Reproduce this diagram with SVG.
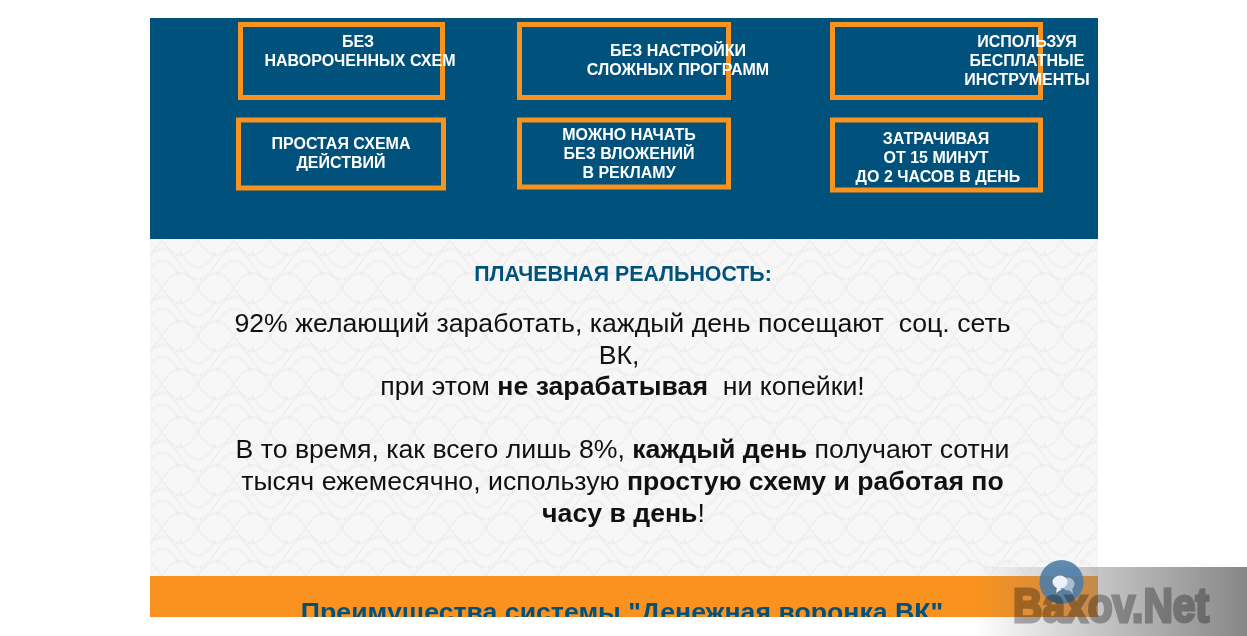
<svg xmlns="http://www.w3.org/2000/svg" width="1247" height="636" viewBox="0 0 1247 636">
<style>
text{font-family:"Liberation Sans",Arial,sans-serif}
.box{fill:none;stroke:#f7931e;stroke-width:5}
.lbl{font-size:16px;font-weight:700;fill:#fff;text-anchor:middle}
.body{font-size:26.670px;fill:#111;text-anchor:middle}
.body tspan.b{font-weight:700}
.wave{fill:none;stroke:#ececec;stroke-width:2.500;stroke-dasharray:1.500 1.500}
</style>
<defs>
<pattern id="tex" width="72" height="48" patternUnits="userSpaceOnUse">
<rect width="72" height="48" fill="#f7f7f7"/>
<path class="wave" d="M0 24C12 4 24 4 36 24C48 44 60 44 72 24"/>
<path class="wave" d="M0 36C12 16 24 16 36 36M36 12C48 32 60 32 72 12"/>
<path class="wave" d="M-18 48C-6 28 6 28 18 48C30 28 42 28 54 48C66 28 78 28 90 48"/>
<path class="wave" d="M-18 0C-6 20 6 20 18 0C30 20 42 20 54 0C66 20 78 20 90 0"/>
</pattern>
<linearGradient id="wm" gradientUnits="userSpaceOnUse" x1="975" x2="1247" y1="0" y2="0">
<stop offset="0" stop-color="#808080" stop-opacity="0"/>
<stop offset="0.45" stop-color="#808080" stop-opacity=".45"/>
<stop offset="1" stop-color="#808080" stop-opacity=".95"/>
</linearGradient>
<clipPath id="page"><rect x="150" y="18" width="948" height="599"/></clipPath>
</defs>
<rect width="1247" height="636" fill="#fff"/>
<g id="page-content" clip-path="url(#page)">
<rect id="band-blue" x="150" y="18" width="948" height="221" fill="#00527c"/>
<rect id="band-texture" x="150" y="239" width="948" height="337" fill="url(#tex)"/>
<rect id="band-orange" x="150" y="576" width="948" height="41" fill="#f9921f"/>
<text x="622" y="621" font-size="26.670" font-weight="700" fill="#00527c" text-anchor="middle">Преимущества системы "Денежная воронка ВК"</text>
</g>
<g id="connectors"/>
<g id="node-1"><rect class="box" x="240.500" y="24.500" width="202" height="73"/><text class="lbl"><tspan x="358" y="47">БЕЗ</tspan><tspan x="360" y="65.500">НАВОРОЧЕННЫХ СХЕМ</tspan></text></g>
<g id="node-2"><rect class="box" x="519.500" y="24.500" width="209" height="73"/><text class="lbl"><tspan x="678" y="56">БЕЗ НАСТРОЙКИ</tspan><tspan x="678" y="74.500">СЛОЖНЫХ ПРОГРАММ</tspan></text></g>
<g id="node-3"><rect class="box" x="832.500" y="24.500" width="208" height="73"/><text class="lbl"><tspan x="1027" y="47">ИСПОЛЬЗУЯ</tspan><tspan x="1027" y="65.500">БЕСПЛАТНЫЕ</tspan><tspan x="1027" y="84.500">ИНСТРУМЕНТЫ</tspan></text></g>
<g id="node-4"><rect class="box" x="238.500" y="120" width="205" height="68"/><text class="lbl"><tspan x="341" y="149">ПРОСТАЯ СХЕМА</tspan><tspan x="341" y="168">ДЕЙСТВИЙ</tspan></text></g>
<g id="node-5"><rect class="box" x="519.500" y="120" width="209" height="67"/><text class="lbl"><tspan x="629" y="140">МОЖНО НАЧАТЬ</tspan><tspan x="629" y="159">БЕЗ ВЛОЖЕНИЙ</tspan><tspan x="629" y="177.500">В РЕКЛАМУ</tspan></text></g>
<g id="node-6"><rect class="box" x="832.500" y="120" width="208" height="70"/><text class="lbl"><tspan x="936" y="144">ЗАТРАЧИВАЯ</tspan><tspan x="936" y="163">ОТ 15 МИНУТ</tspan><tspan x="938" y="182">ДО 2 ЧАСОВ В ДЕНЬ</tspan></text></g>
<g id="copy">
<text x="623" y="281" font-size="21.330" font-weight="700" fill="#00527c" text-anchor="middle">ПЛАЧЕВНАЯ РЕАЛЬНОСТЬ:</text>
<text class="body" xml:space="preserve"><tspan x="622.500" y="332">92% желающий заработать, каждый день посещают  соц. сеть</tspan><tspan x="619" y="364">ВК,</tspan><tspan x="622.500" y="395">при этом <tspan class="b">не зарабатывая</tspan>  ни копейки!</tspan><tspan x="622.500" y="458">В то время, как всего лишь 8%, <tspan class="b">каждый день</tspan> получают сотни</tspan><tspan x="622.500" y="490">тысяч ежемесячно, использую <tspan class="b">простую схему и работая по</tspan></tspan><tspan x="623.500" y="522"><tspan class="b">часу в день</tspan>!</tspan></text>
</g>
<g id="watermark">
<rect x="975" y="567" width="272" height="69" fill="url(#wm)"/>
<circle cx="1061.500" cy="582" r="22" fill="#4a7ca8" fill-opacity=".88"/>
<ellipse cx="1068" cy="584" rx="6.500" ry="6.500" fill="#a9bfd3"/>
<path d="M1068 589l5 5-1-7z" fill="#a9bfd3"/>
<ellipse cx="1060" cy="582" rx="7.500" ry="6.500" fill="#eef2f6"/>
<path d="M1057 587l-1 6 6-4z" fill="#eef2f6"/>
<text x="1111" y="621.500" font-size="48" font-weight="700" fill="#b2b2b2" stroke="#b2b2b2" stroke-width="3" text-anchor="middle" textLength="196" lengthAdjust="spacingAndGlyphs" style="mix-blend-mode:multiply">Baxov.Net</text>
</g>
</svg>
